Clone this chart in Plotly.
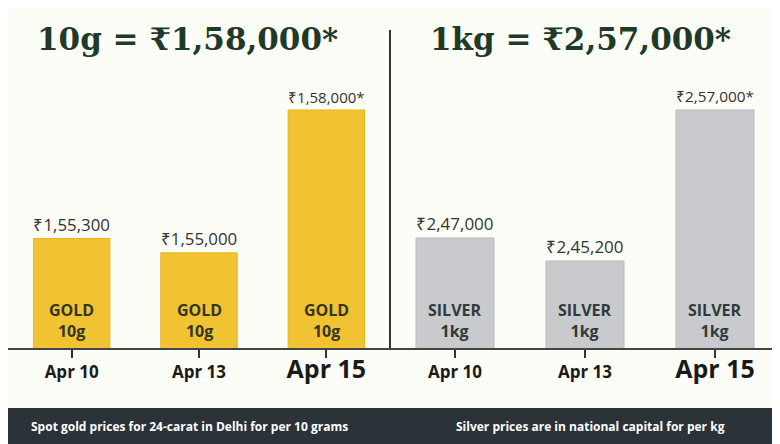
import plotly.graph_objects as go
from plotly.subplots import make_subplots

dates = ['Apr 10', 'Apr 13', 'Apr 15']
gold_prices = [155300, 155000, 158000]
gold_labels = ['₹1,55,300', '₹1,55,000', '₹1,58,000*']
silver_prices = [247000, 245200, 257000]
silver_labels = ['₹2,47,000', '₹2,45,200', '₹2,57,000*']
tick_text = ['<b>Apr 10</b>', '<b>Apr 13</b>', '<span style="font-size:25px"><b>Apr 15</b></span>']

W, H = 772, 436  # page body adds an 8px margin
split = 382 / W

fig = make_subplots(rows=1, cols=2, horizontal_spacing=0)

fig.add_trace(go.Bar(x=dates, y=gold_prices, width=0.6, base=0,
                     marker=dict(color='#f1c232', line=dict(color='#e8b520', width=1)),
                     text=gold_labels, textposition='outside', cliponaxis=False,
                     textfont=dict(size=17, color='#333333', family='Open Sans')), row=1, col=1)
fig.add_trace(go.Bar(x=dates, y=silver_prices, width=0.6, base=0,
                     marker=dict(color='#c9cacd', line=dict(color='#b8b9bc', width=1)),
                     text=silver_labels, textposition='outside', cliponaxis=False,
                     textfont=dict(size=17, color='#333333', family='Open Sans')), row=1, col=2)

# inner labels
for d in dates:
    fig.add_annotation(x=d, y=1 - 336 / H, xref='x', yref='paper', yanchor='bottom',
                       text='<b>GOLD<br>10g</b>', showarrow=False,
                       font=dict(size=16, color='#33361a', family='Open Sans'))
    fig.add_annotation(x=d, y=1 - 336 / H, xref='x2', yref='paper', yanchor='bottom',
                       text='<b>SILVER<br>1kg</b>', showarrow=False,
                       font=dict(size=16, color='#2f3a3a', family='Open Sans'))

axis_common = dict(showgrid=False, ticks='outside', ticklen=8, tickcolor='#333', tickwidth=2,
                   showline=True, linecolor='#444', linewidth=2,
                   tickfont=dict(size=17, color='#1a1a1a', family='Open Sans'))
fig.update_xaxes(**axis_common, tickvals=dates, ticktext=tick_text)
fig.update_xaxes(domain=[0, split], row=1, col=1)
fig.update_xaxes(domain=[split, 1], row=1, col=2)
fig.update_yaxes(visible=False, domain=[1 - 340 / H, 1])
fig.update_yaxes(range=[153000, 160143], row=1, col=1)
fig.update_yaxes(range=[238406, 264968], row=1, col=2)

for xc, t in [(179 / W, '<b>10g = ₹1,58,000*</b>'), (572 / W, '<b>1kg = ₹2,57,000*</b>')]:
    fig.add_annotation(x=xc, y=1 - 31 / H, xref='paper', yref='paper', text=t,
                       xanchor='center', yanchor='middle', showarrow=False,
                       font=dict(size=31, color='#1f3a28', family='DejaVu Serif'))

fig.add_shape(type='line', xref='paper', yref='paper', x0=split, x1=split,
              y0=1 - 340 / H, y1=1 - 22 / H, line=dict(color='#333', width=2))
fig.add_shape(type='rect', xref='paper', yref='paper', x0=0, x1=1, y0=0, y1=36 / H,
              fillcolor='#2b3238', line=dict(width=0), layer='above')
for xc, t in [(181 / W, '<b>Spot gold prices for 24-carat in Delhi for per 10 grams</b>'),
              (582 / W, '<b>Silver prices are in national capital for per kg</b>')]:
    fig.add_annotation(x=xc, y=18 / H, xref='paper', yref='paper', showarrow=False,
                       xanchor='center', yanchor='middle', text=t,
                       font=dict(size=12, color='white', family='Open Sans'))

fig.update_layout(width=W, height=H,
                  margin=dict(l=0, r=0, t=0, b=0, autoexpand=False),
                  showlegend=False, plot_bgcolor='#fdfdf7', paper_bgcolor='#fdfdf7')

fig.write_html("out.html")
